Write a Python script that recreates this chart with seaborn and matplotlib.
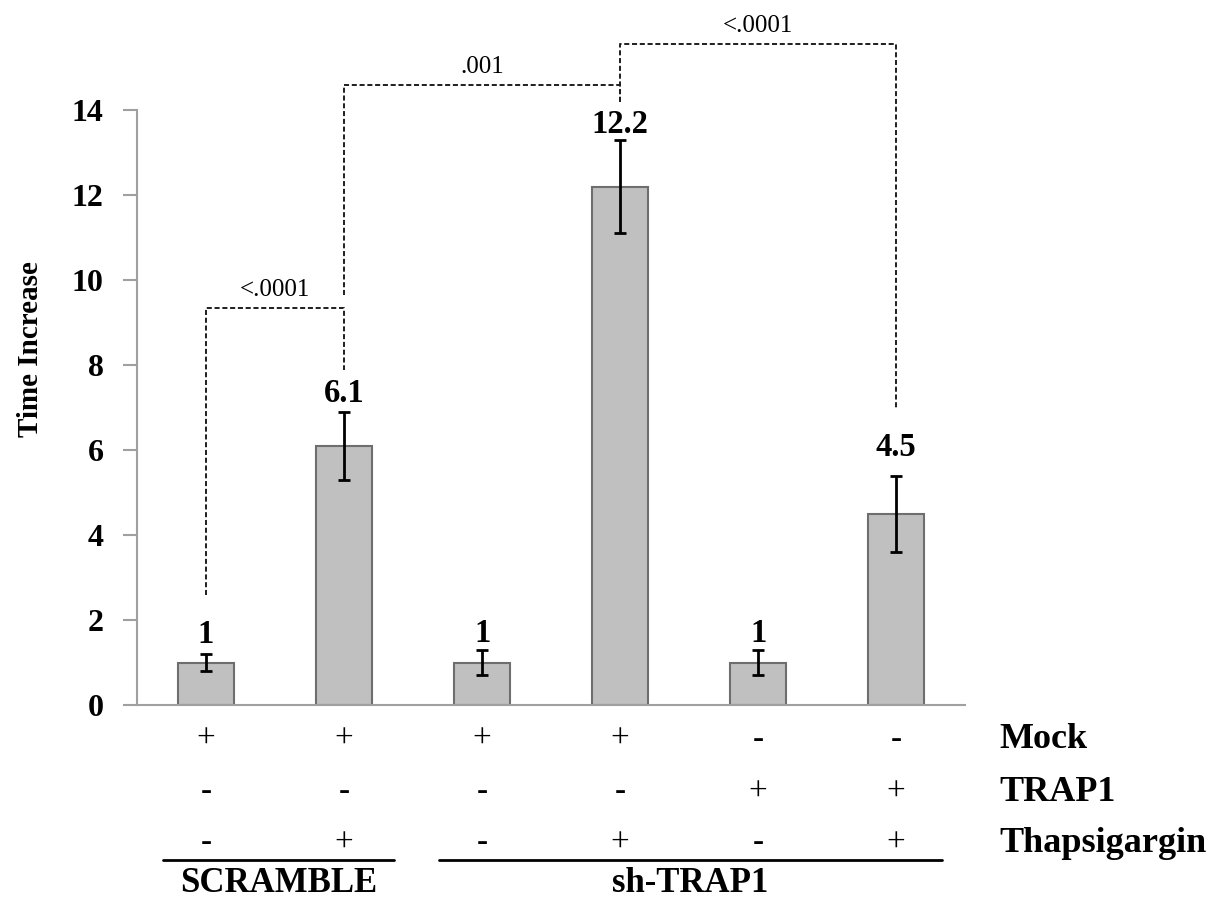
import matplotlib
matplotlib.use('Agg')
import matplotlib.pyplot as plt
import seaborn as sns
import pandas as pd

# data
conditions = ['SCR', 'SCR+Thap', 'sh', 'sh+Thap', 'sh+TRAP1', 'sh+TRAP1+Thap']
means = [1.0, 6.1, 1.0, 12.2, 1.0, 4.5]
errors = [0.2, 0.8, 0.3, 1.1, 0.3, 0.9]
value_labels = ['1', '6.1', '1', '12.2', '1', '4.5']
label_pad = [0.45, 0.44, 0.38, 0.35, 0.38, 0.67]

mock = ['+', '+', '+', '+', '-', '-']
trap1 = ['-', '-', '-', '-', '+', '+']
thapsigargin = ['-', '+', '-', '+', '-', '+']
row_names = ['Mock', 'TRAP1', 'Thapsigargin']
row_y = [-0.82, -2.05, -3.25]

group_names = ['SCRAMBLE', 'sh-TRAP1']
group_spans = [(-0.31, 1.36), (1.69, 5.33)]

# brackets: left bar, right bar, top, left leg bottom, right leg bottom, p-value
brackets = [
    (0, 1, 9.34, 2.59, 7.88, '<.0001'),
    (1, 3, 14.6, 9.65, 14.2, '.001'),
    (3, 5, 15.55, 14.2, 6.99, '<.0001'),
]

df = pd.DataFrame({'cond': conditions, 'mean': means})

sns.set_style('white')
plt.rcParams['font.family'] = ['Liberation Serif', 'DejaVu Serif']
plt.rcParams['text.color'] = 'black'
plt.rcParams['axes.labelcolor'] = 'black'

fig = plt.figure(figsize=(12.16, 9.02), dpi=100)
ax = fig.add_axes([0.1127, 0.2184, 0.681, 0.6596])

sns.barplot(data=df, x='cond', y='mean', order=conditions, color='#c0c0c0',
            saturation=1, edgecolor='#6e6e6e', linewidth=1.5, width=0.41,
            errorbar=None, ax=ax)
ax.errorbar(range(len(means)), means, yerr=errors, fmt='none', ecolor='black',
            elinewidth=2, capsize=4.5, capthick=2, zorder=3)

for i, (m, e, lab, pad) in enumerate(zip(means, errors, value_labels, label_pad)):
    ax.text(i, m + e + pad, lab, ha='center', va='center', fontsize=23.5,
            fontweight='bold')

dash = (0, (2.6, 1.4))
for a, b, top, lb, rb, p in brackets:
    ax.plot([a, a, b, b], [lb, top, top, rb], color='#1e1e1e', lw=1.4,
            linestyle=dash, clip_on=False)
    ax.text((a + b) / 2, top + 0.42, p, ha='center', va='center', fontsize=18)

ax.set_xlim(-0.5, 5.5)
ax.set_ylim(0, 14)
ax.set_yticks(range(0, 15, 2))
ax.set_xticks([])
ax.set_xlabel('')
ax.set_ylabel('Time Increase', fontsize=21, fontweight='bold')
ax.yaxis.set_label_coords(-0.112, 0.598)
for t in ax.get_yticklabels():
    t.set_fontweight('bold')
ax.tick_params(axis='y', direction='out', length=10, width=1.5, color='#a0a0a0',
               pad=14, labelsize=23, labelcolor='black', left=True)

sns.despine(ax=ax, top=True, right=True)
for s in ['left', 'bottom']:
    ax.spines[s].set_color('#a0a0a0')
    ax.spines[s].set_linewidth(1.5)

# treatment table under the bars
for signs, y, name in zip([mock, trap1, thapsigargin], row_y, row_names):
    for i, s in enumerate(signs):
        ax.text(i, y, s, ha='center', va='center', fontsize=24, clip_on=False)
    ax.text(5.75, y, name, ha='left', va='center', fontsize=26,
            fontweight='bold', clip_on=False)

for (x0, x1), g in zip(group_spans, group_names):
    ax.plot([x0, x1], [-3.65, -3.65], color='black', lw=2, clip_on=False)
    ax.text((x0 + x1) / 2, -4.2, g, ha='center', va='center', fontsize=25,
            fontweight='bold', clip_on=False)

fig.savefig('out.png', dpi=100, facecolor='white')
